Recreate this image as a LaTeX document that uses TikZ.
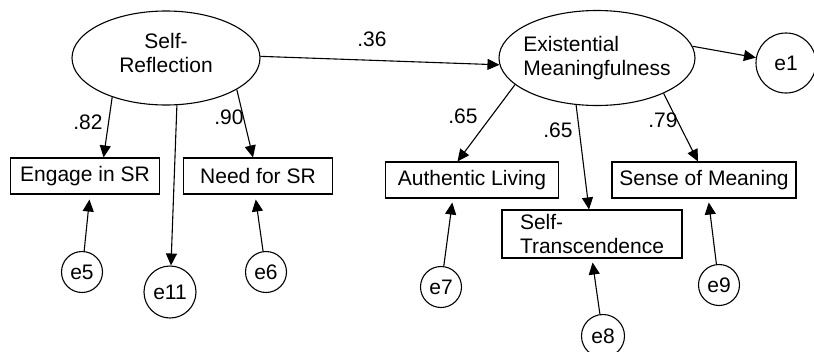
\documentclass[tikz,border=0pt]{standalone}
\usepackage{fontspec}
\setmainfont{Liberation Sans}
\usetikzlibrary{shapes.geometric,arrows.meta}

\begin{document}
\begin{tikzpicture}[x=1pt,y=-1pt,
    every node/.style={font=\fontsize{21}{24}\selectfont},
    latent/.style={draw,ellipse,line width=1.1pt},
    obs/.style={draw,rectangle,line width=1.1pt,inner sep=0pt,minimum height=36pt},
    err/.style={draw,circle,line width=1.1pt,inner sep=0pt,minimum size=41pt},
    path/.style={line width=1.1pt,-{Triangle[length=12pt,width=11pt]}}]
          \useasboundingbox (0,0) rectangle (814,351);
          % latent variables with absolute coordinates
          \node[latent,minimum width=188pt,minimum height=94pt,text depth=10pt,align=center] (sr) at (166,58) {Self-\\Reflection};
          \node[latent,minimum width=196pt,minimum height=95pt,inner xsep=-8pt,align=left] (em) at (597,58) {Existential\\Meaningfulness};
          % indicators
          \node[obs,minimum width=149pt] (eng) at (85,176) {Engage in SR};
          \node[obs,minimum width=149pt] (need) at (258,176) {Need for SR};
          \node[obs,minimum width=173pt] (auth) at (472,180) {Authentic Living};
          \node[obs,minimum width=180pt,minimum height=48pt,align=left] (trans) at (592,234) {Self-\\Transcendence};
          \node[obs,minimum width=184pt] (sense) at (704,180) {Sense of Meaning};
          % error terms
          \node[err,minimum size=60pt] (e1) at (786,63) {e1};
          \node[err] (e5) at (82,272) {e5};
          \node[err,minimum size=52pt] (e11) at (170,292) {e11};
          \node[err] (e6) at (266,272) {e6};
          \node[err] (e7) at (441,287) {e7};
          \node[err,minimum size=43pt] (e8) at (603,336) {e8};
          \node[err] (e9) at (719,285) {e9};
          % coefficients
          \node (l36) at (372,39) {.36};
          \node (l82) at (88,122) {.82};
          \node (l90) at (229,117) {.90};
          \node (l65a) at (463,116) {.65};
          \node (l65b) at (558,130) {.65};
          \node (l79) at (663,120) {.79};
          % Directed edges
          \draw [path] (sr.1) -- (em.184);
          \draw [path] (sr.216) -- (eng.45);
          \draw [path] (sr.336) -- (need.105);
          \draw [path] (sr.283) -- (e11);
          \draw [path] (em.7) -- (e1);
          \draw [path] (em.198) -- (auth.128);
          \draw [path] (em.246) -- (trans.97);
          \draw [path] (em.332) -- (sense.108);
          % error paths
          \draw [path,shorten >=5pt] (e5) -- (eng.285);
          \draw [path,shorten >=5pt] (e6) -- (need.261);
          \draw [path,shorten >=4pt] (e7) -- (auth.224);
          \draw [path,shorten >=4pt] (e8) -- (trans.south);
          \draw [path,shorten >=4pt] (e9) -- (sense.283);
        \end{tikzpicture}
\end{document}
